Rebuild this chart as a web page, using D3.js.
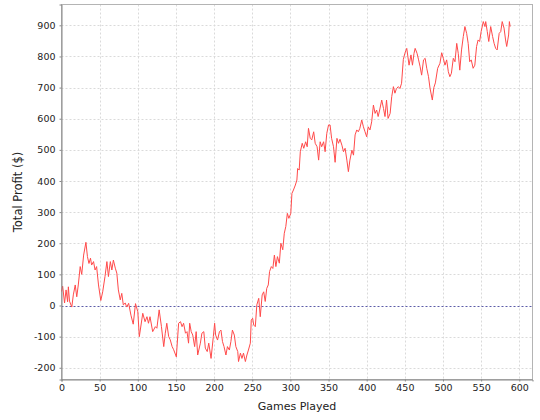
<!DOCTYPE html>
<html>
<head>
<meta charset="utf-8">
<script src="https://cdn.jsdelivr.net/npm/d3@7"></script>
<style>
  html, body { margin: 0; padding: 0; background: #ffffff; }
  svg { display: block; }
</style>
</head>
<body>
<svg id="chart" width="540" height="420"></svg>
<script>
// ---- data ----
const games = [0,1.5,4,6,8,9,10.5,13.5,15.5,18,20,22,24.5,26.5,29,32,34,36,38,39.5,42,44,46,48.5,51.5,54,57,59.5,61.5,64,66,68,70.5,72.5,74.5,77,79,81,83.5,85.5,88,91,94,97,100,102,106.5,109.5,112,114,116,119.5,123,125,128,131,134,136,138,140.5,142.5,145,147,150.5,153.5,156,158,160,162.5,164.5,166.5,168,170,172,174.5,176.5,178.5,182,184,186.5,188.5,191,193,196,199,200.7,202,204.5,207,209,211,213,215.5,217.5,220,222,224,226.5,228.5,231,232,234.5,236.5,238.5,241,243,245,247.5,248.7,250.5,252,254,256,258.5,260.5,263,265,267,269,271,272.7,275,277,279,281,283,285.5,287.5,290,292,294,296,298,300.5,302,304,306.5,308.5,309.5,311.5,313,315.5,317.5,320,322,323.7,326,328,330.5,332.5,335,337,339,341,343.5,345.5,347.7,350,352,354,356.5,358.6,361,363,365,367.5,369.6,371.7,374,376,378,380.6,382.7,384.8,387,389,391,393.5,395.7,397.8,400,402,404.3,406.5,408.8,411,413,415,417,419.7,422,424,426,428,430.7,432.8,435,437,439,441.5,443.6,445.7,448,450,452.5,455.5,458,460,462,463.5,466,468,470,472,474.5,476.6,478.7,481,483,486,488,490,493,496,498.3,500.4,502.6,504.8,507,509,511,513.5,515.7,518,520,522,524.3,526.6,528.7,531,533,535,537,539.5,541.7,544,546,548,550,552.8,555,556,558,560,562.5,565,567,569,571,573.6,575.7,577.6,580,582,583.5,586,587,588];
const profit = [45,62,8,50,12,60,14,-5,34,66,28,66,125,100,162,203,157,135,152,130,141,114,125,66,16,44,93,141,93,141,114,146,120,104,50,18,39,2,8,-5,7,-31,-60,6,-20,-100,-25,-52,-36,-57,-36,-84,-68,-73,-14,-68,-132,-89,-57,-100,-110,-132,-142,-165,-57,-52,-68,-57,-89,-84,-121,-57,-84,-95,-132,-84,-159,-121,-89,-84,-137,-148,-121,-170,-100,-57,-95,-111,-84,-79,-116,-132,-159,-132,-143,-116,-79,-95,-132,-148,-180,-153,-170,-153,-180,-159,-143,-121,-47,-41,-63,-68,2,23,-36,34,44,13,55,66,109,125,119,162,125,157,136,200,179,232,254,296,280,296,360,371,387,403,440,435,494,521,505,526,510,569,537,532,558,521,510,467,526,510,526,494,553,580,580,537,510,460,537,521,534,515,494,505,467,430,467,499,483,548,564,558,569,596,574,558,542,574,564,590,644,617,628,607,628,660,633,607,660,601,617,671,703,682,697,703,697,714,790,810,826,772,805,772,810,826,810,789,767,740,789,794,762,735,698,660,700,715,762,778,812,794,772,789,751,735,746,794,783,842,810,756,821,864,896,874,842,783,789,762,772,832,853,848,880,912,896,912,880,848,896,864,842,826,821,874,880,912,891,853,832,869,912,896];
const xTicks = [0,50,100,150,200,250,300,350,400,450,500,550,600];
const yTicks = [-200,-100,0,100,200,300,400,500,600,700,800,900];
const xLabel = "Games Played";
const yLabel = "Total Profit ($)";

// ---- layout ----
const svg = d3.select("#chart");
const L = 61.5, R = 532.5, T = 4.5, B = 379.5;
const x = d3.scaleLinear().domain([0, 617.3]).range([L, R]);
const y = d3.scaleLinear().domain([-237.7, 966.9]).range([B, T]);
const font = "'DejaVu Sans', sans-serif";

svg.append("rect").attr("width", 540).attr("height", 420).attr("fill", "#ffffff");

// gridlines
const grid = svg.append("g");
grid.selectAll("line.v").data(xTicks.filter(d => d > 0)).enter().append("line")
  .attr("x1", d => Math.round(x(d)) + 0.5).attr("x2", d => Math.round(x(d)) + 0.5)
  .attr("y1", T).attr("y2", B)
  .attr("stroke", "#dadada").attr("stroke-width", 1).attr("stroke-dasharray", "2,2");
grid.selectAll("line.h").data(yTicks.filter(d => d !== 0)).enter().append("line")
  .attr("x1", L).attr("x2", R)
  .attr("y1", d => Math.round(y(d)) + 0.5).attr("y2", d => Math.round(y(d)) + 0.5)
  .attr("stroke", "#dadada").attr("stroke-width", 1).attr("stroke-dasharray", "2,2");

// zero marker
svg.append("line")
  .attr("x1", L).attr("x2", R)
  .attr("y1", Math.round(y(0)) + 0.5).attr("y2", Math.round(y(0)) + 0.5)
  .attr("stroke", "#5c5ca8").attr("stroke-width", 1).attr("stroke-dasharray", "2,2");

// plot outline (top/right)
svg.append("rect").attr("x", L).attr("y", T).attr("width", R - L).attr("height", B - T)
  .attr("fill", "none").attr("stroke", "#b4b4b4").attr("stroke-width", 1);

// series line
const line = d3.line().x((d, i) => x(games[i])).y(d => y(d));
svg.append("path").datum(profit)
  .attr("d", line)
  .attr("fill", "none").attr("stroke", "#ff4a4a").attr("stroke-width", 1)
  .attr("stroke-linejoin", "round");

// axes
const xAxis = d3.axisBottom(x).tickValues(xTicks).tickSize(2).tickPadding(3).tickFormat(d3.format("d"));
const yAxis = d3.axisLeft(y).tickValues(yTicks).tickSize(2).tickPadding(4).tickFormat(d3.format("d"));

const gx = svg.append("g").attr("transform", `translate(0,${B})`).call(xAxis);
const gy = svg.append("g").attr("transform", `translate(${L},0)`).call(yAxis);
[gx, gy].forEach(g => {
  g.select(".domain").attr("stroke", "#888888");
  g.selectAll(".tick line").attr("stroke", "#888888");
  g.selectAll(".tick text").attr("fill", "#222222").style("font-family", font).style("font-size", "9.5px");
});
gy.selectAll(".tick text").text(d => d < 0 ? "-" + Math.abs(d) : d);

// axis labels
svg.append("text").attr("x", (L + R) / 2).attr("y", 410)
  .attr("text-anchor", "middle").attr("fill", "#222222")
  .style("font-family", font).style("font-size", "11px").text(xLabel);
svg.append("text").attr("transform", `translate(22,${(T + B) / 2}) rotate(-90)`)
  .attr("text-anchor", "middle").attr("fill", "#222222")
  .style("font-family", font).style("font-size", "11.5px").text(yLabel);
</script>
</body>
</html>
